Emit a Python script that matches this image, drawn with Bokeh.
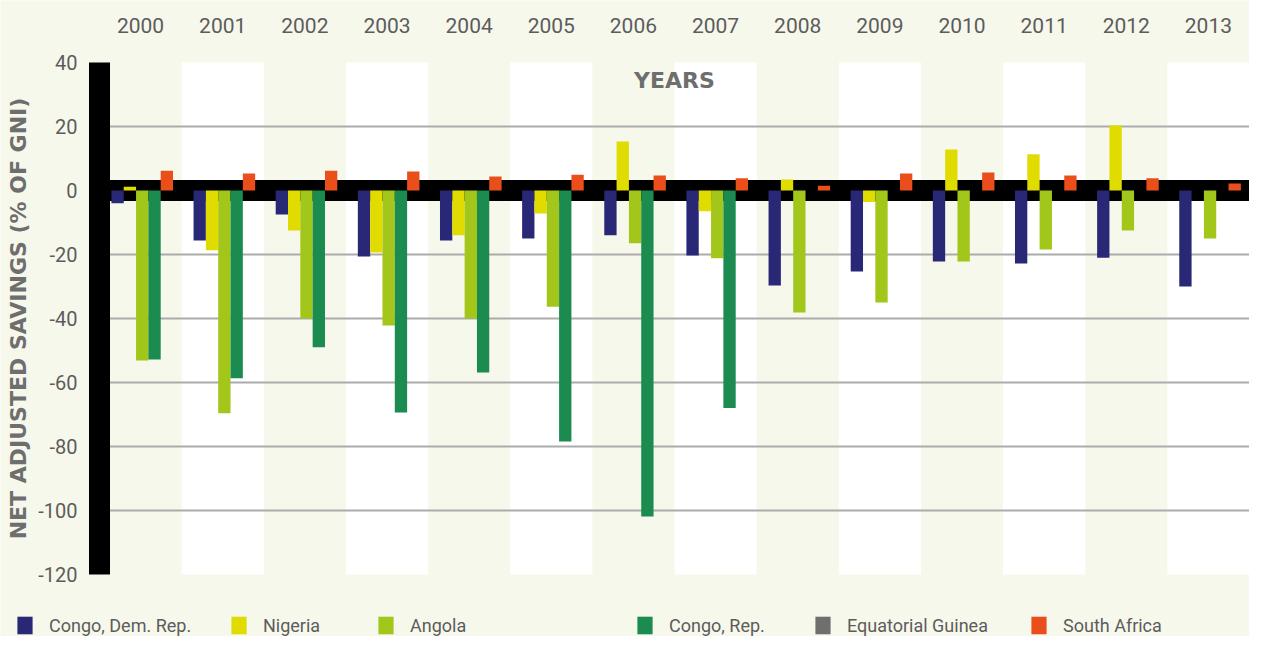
import numpy as np
from bokeh.plotting import figure
from bokeh.models import (ColumnDataSource, FixedTicker, Label, Legend,
                          LegendItem, Range1d)
from bokeh.transform import dodge
from bokeh.embed import file_html
from bokeh.resources import INLINE

# ---------------- data ----------------
years = ["2000", "2001", "2002", "2003", "2004", "2005", "2006",
         "2007", "2008", "2009", "2010", "2011", "2012", "2013"]
congo_dr = [-4.0, -15.6, -7.5, -20.6, -15.6, -15.0, -14.0,
            -20.3, -29.7, -25.3, -22.2, -22.8, -21.0, -30.0]
nigeria = [1.2, -18.7, -12.5, -19.4, -14.0, -7.2, 15.3,
           -6.5, 3.4, -3.6, 12.8, 11.3, 20.3, None]
angola = [-53.1, -69.6, -40.0, -42.2, -40.0, -36.3, -16.5,
          -21.2, -38.1, -35.0, -22.2, -18.4, -12.5, -15.0]
congo_rep = [-52.8, -58.7, -49.0, -69.4, -56.9, -78.4, -101.9,
             -68.0, None, None, None, None, None, None]
equatorial_guinea = [None, None, None, None, None, None, None,
                     None, None, None, None, None, None, None]
south_africa = [6.2, 5.3, 6.2, 5.9, 4.4, 4.9, 4.7,
                3.8, 1.5, 5.3, 5.6, 4.7, 3.8, 2.2]

series_names = ["Congo, Dem. Rep.", "Nigeria", "Angola", "Congo, Rep.",
                "Equatorial Guinea", "South Africa"]
y_ticks = [40, 20, 0, -20, -40, -60, -80, -100, -120]
grid_ticks = [20, -20, -40, -60, -80, -100]
Y_MIN, Y_MAX = -120, 40

# ---------------- style / layout ----------------
CREAM = "#f7f8ec"
colors = ["#282876", "#e0dc00", "#a3c61a", "#1b8b4f", "#6f6f6f", "#e94e1b"]
offsets = [-0.28, -0.13, 0.02, 0.17, 0.32, 0.32]
BAR_W = 0.15
FONT = "Roboto"
TXT = "#5c5c5c"
TITLE_C = "#6e6e6e"

W, H = 1249, 636
PLOT_L, PLOT_T, PLOT_B = 99, 62, 574       # pixel box of the chart area
n = len(years)
cat_px = (W - PLOT_L) / n
px_per_unit = (PLOT_B - PLOT_T) / (Y_MAX - Y_MIN)
x_start = -0.5 - PLOT_L / cat_px
y_end = Y_MAX + PLOT_T / px_per_unit
y_start = Y_MIN - (H - PLOT_B) / px_per_unit


def arr(v):
    return np.array([np.nan if x is None else x for x in v], dtype=float)


idx = list(range(n))
src = ColumnDataSource(dict(
    x=idx,
    s0=arr(congo_dr), s1=arr(nigeria), s2=arr(angola),
    s3=arr(congo_rep), s4=arr(equatorial_guinea), s5=arr(south_africa),
))

p = figure(width=W, height=H,
           x_range=Range1d(x_start, n - 0.5),
           y_range=Range1d(y_start, y_end),
           output_backend="svg", toolbar_location=None,
           x_axis_location="above",
           min_border_left=0, min_border_right=0,
           min_border_top=0, min_border_bottom=0,
           background_fill_color=CREAM, border_fill_color=CREAM,
           outline_line_color=None)

# alternating white columns (odd years)
band_x = [i for i in idx if i % 2 == 1]
p.vbar(x=band_x, width=1.0, top=Y_MAX, bottom=Y_MIN, fill_color="white",
       line_color=None, level="image")

# horizontal grid lines, limited to the chart area
p.xgrid.visible = False
p.ygrid.visible = False
p.segment(x0=-0.5, x1=n - 0.5, y0=grid_ticks, y1=grid_ticks,
          line_color="#ababab", line_width=2, level="underlay")

# thick black zero band
p.segment(x0=[-0.5], x1=[n - 0.5], y0=[0], y1=[0],
          line_color="black", line_width=21, level="underlay")

# bars
renderers = []
for k, name in enumerate(series_names):
    r = p.vbar(x=dodge("x", offsets[k]), top="s%d" % k, bottom=0,
               width=BAR_W, source=src, fill_color=colors[k],
               line_color=None)
    renderers.append(r)

# y axis: thick black bar at the left of the chart area
ya = p.yaxis[0]
ya.fixed_location = -0.5
ya.bounds = (Y_MIN, Y_MAX)
ya.ticker = FixedTicker(ticks=y_ticks)
ya.major_label_overrides = {t: str(t) for t in y_ticks}
ya.axis_line_color = "black"
ya.axis_line_width = 21
ya.major_tick_line_color = None
ya.minor_tick_line_color = None
ya.major_tick_out = 0
ya.major_tick_in = 0
ya.minor_tick_out = 0
ya.minor_tick_in = 0
ya.major_label_standoff = 22
ya.major_label_text_font = FONT
ya.major_label_text_font_size = "20px"
ya.major_label_text_color = TXT
ya.axis_label = "NET ADJUSTED SAVINGS (% OF GNI)"
ya.axis_label_text_font = "DejaVu Sans"
ya.axis_label_text_font_style = "bold"
ya.axis_label_text_font_size = "22px"
ya.axis_label_text_color = TITLE_C
ya.axis_label_standoff = 4

# x axis on top (years)
xa = p.xaxis[0]
xa.fixed_location = Y_MAX
xa.bounds = (-0.5, n - 0.5)
xa.ticker = FixedTicker(ticks=idx)
xa.major_label_overrides = {i: years[i] for i in idx}
xa.axis_line_color = None
xa.major_tick_line_color = None
xa.minor_tick_line_color = None
xa.major_tick_out = 0
xa.major_tick_in = 0
xa.minor_tick_out = 0
xa.minor_tick_in = 0
xa.major_label_standoff = 30
xa.major_label_text_font = FONT
xa.major_label_text_font_size = "21px"
xa.major_label_text_color = TXT

# "YEARS" title inside the chart area
p.add_layout(Label(x=(n - 1) / 2, y=Y_MAX - 18 / px_per_unit, text="YEARS",
                   text_align="center", text_baseline="alphabetic",
                   text_font="DejaVu Sans", text_font_style="bold",
                   text_font_size="22px", text_color=TITLE_C))

# legend entries, one legend each for exact horizontal placement
legend_px = [15, 229, 376, 635, 813, 1029]
LEG_TOP, LEG_H = 614, 22
for k, name in enumerate(series_names):
    lg = Legend(items=[LegendItem(label=name, renderers=[renderers[k]])],
                location=(legend_px[k], H - LEG_TOP - LEG_H),
                orientation="horizontal",
                glyph_width=19, glyph_height=LEG_H, label_height=LEG_H,
                label_standoff=15,
                label_text_font=FONT, label_text_font_size="18px",
                label_text_color=TXT, padding=0, margin=0,
                border_line_color=None, background_fill_alpha=0)
    p.add_layout(lg, "center")

open("out.html", "w").write(file_html(p, INLINE))
